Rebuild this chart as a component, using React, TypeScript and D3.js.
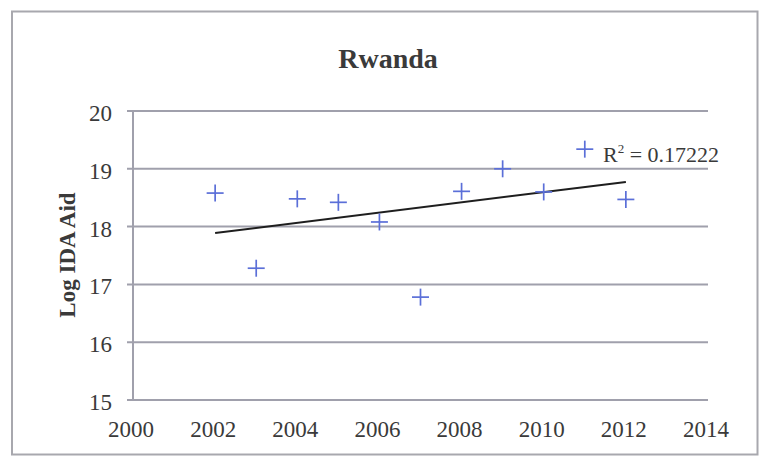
import React from "react";
import * as d3 from "d3";

const years: number[] = [2002, 2003, 2004, 2005, 2006, 2007, 2008, 2009, 2010, 2011, 2012];
const logAid: number[] = [18.58, 17.28, 18.48, 18.42, 18.08, 16.78, 18.61, 19.0, 18.6, 19.34, 18.47];
const xTicks: number[] = [2000, 2002, 2004, 2006, 2008, 2010, 2012, 2014];
const yTicks: number[] = [15, 16, 17, 18, 19, 20];
const title = "Rwanda";
const yLabel = "Log IDA Aid";
const r2Label = "0.17222";

const W = 760;
const H = 456;
const plot = { left: 133, right: 708, top: 111, bottom: 400 };

export default function App() {
  const x = d3.scaleLinear().domain([2000, 2014]).range([plot.left, plot.right]);
  const y = d3.scaleLinear().domain([15, 20]).range([plot.bottom, plot.top]);

  const mx = d3.mean(years) as number;
  const my = d3.mean(logAid) as number;
  let sxy = 0;
  let sxx = 0;
  years.forEach((yr, i) => {
    sxy += (yr - mx) * (logAid[i] - my);
    sxx += (yr - mx) * (yr - mx);
  });
  const slope = sxy / sxx;
  const intercept = my - slope * mx;
  const x0 = d3.min(years) as number;
  const x1 = d3.max(years) as number;
  const trend = d3.line<number>().x((d) => x(d)).y((d) => y(intercept + slope * d))([x0, x1]) as string;

  const font = "'Liberation Serif', 'Times New Roman', serif";
  const grid = "#a0a0ac";
  const text = "#3a3a3a";
  const mk = 8.5;

  return (
    <svg
      width={W}
      height={H}
      style={{ position: "absolute", left: 0, top: 0, background: "#fff", fontFamily: font }}
    >
      <rect x={0} y={0} width={W} height={H} fill="#fff" />
      <rect x={12} y={11.5} width={745.5} height={443} fill="none" stroke="#a8a8ae" strokeWidth={2} />
      <text x={388} y={68} textAnchor="middle" fontSize={28} fontWeight="bold" fill={text}>
        {title}
      </text>
      {yTicks.map((t) => (
        <g key={t}>
          <line x1={plot.left - 6} x2={plot.right} y1={y(t)} y2={y(t)} stroke={grid} strokeWidth={2} />
          <text x={plot.left - 21} y={y(t) + 2} dy="0.35em" textAnchor="end" fontSize={23} fill={text}>
            {t}
          </text>
        </g>
      ))}
      <line x1={plot.left} x2={plot.left} y1={plot.top} y2={plot.bottom} stroke={grid} strokeWidth={2} />
      {xTicks.map((t) => (
        <text key={t} x={x(t) - 2} y={plot.bottom + 29} dy="0.35em" textAnchor="middle" fontSize={23} fill={text}>
          {t}
        </text>
      ))}
      <text
        transform={`translate(67,${255}) rotate(-90)`}
        textAnchor="middle"
        dy="0.35em"
        fontSize={23}
        fontWeight="bold"
        fill={text}
      >
        {yLabel}
      </text>
      <path d={trend} fill="none" stroke="#1e1e1e" strokeWidth={2} />
      {years.map((yr, i) => (
        <g key={yr} stroke="#5b6fd8" strokeWidth={1.7}>
          <line x1={x(yr) - mk} x2={x(yr) + mk} y1={y(logAid[i])} y2={y(logAid[i])} />
          <line x1={x(yr)} x2={x(yr)} y1={y(logAid[i]) - mk} y2={y(logAid[i]) + mk} />
        </g>
      ))}
      <text x={603} y={162} fontSize={22} fill={text}>
        R<tspan fontSize={13} dy={-9}>2</tspan>
        <tspan dy={9}>{" = " + r2Label}</tspan>
      </text>
    </svg>
  );
}
